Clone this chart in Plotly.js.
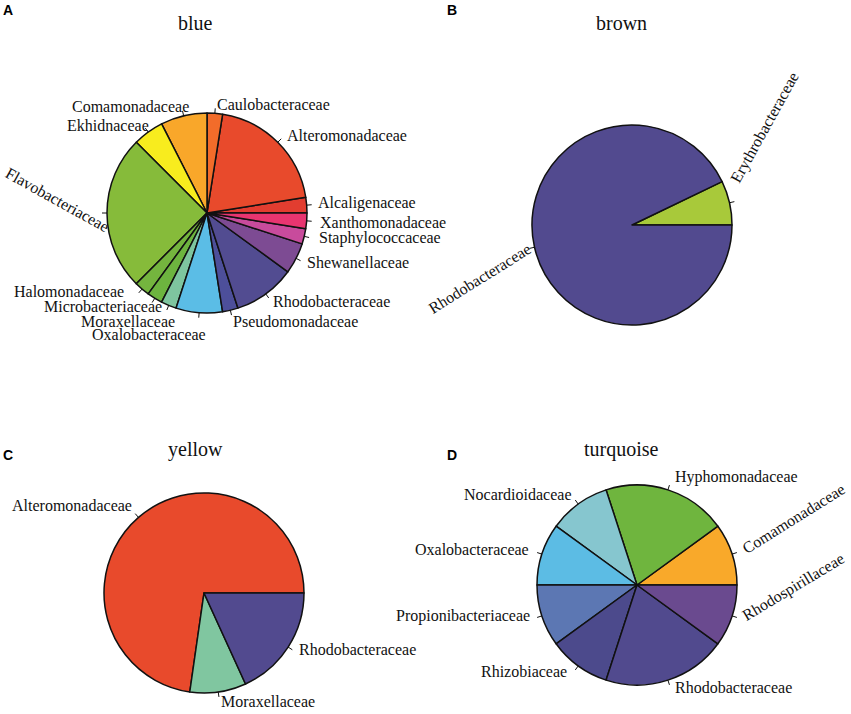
<!DOCTYPE html>
<html>
<head>
<meta charset="utf-8">
<script src="https://cdn.plot.ly/plotly-3.0.1.min.js"></script>
<style>html,body{margin:0;padding:0;background:#fff}#chart{width:851px;height:714px}</style>
</head>
<body>
<div id="chart"></div>
<script>
// ---- data (slice order: counter-clockwise from 3 o'clock) ----
const blueLabels = ["Alcaligenaceae","Alteromonadaceae","Caulobacteraceae","Comamonadaceae","Ekhidnaceae","Flavobacteriaceae","Halomonadaceae","Microbacteriaceae","Moraxellaceae","Oxalobacteraceae","Pseudomonadaceae","Rhodobacteraceae","Shewanellaceae","Staphylococcaceae","Xanthomonadaceae"];
const blueValues = [1, 8, 1, 3, 2, 10, 1, 1, 1, 3, 1, 4, 2, 1, 1];

const brownLabels = ["Erythrobacteraceae","Rhodobacteraceae"];
const brownValues = [1, 13];

const yellowLabels = ["Alteromonadaceae","Moraxellaceae","Rhodobacteraceae"];
const yellowValues = [8, 1, 2];

const turquoiseLabels = ["Comamonadaceae","Hyphomonadaceae","Nocardioidaceae","Oxalobacteraceae","Propionibacteriaceae","Rhizobiaceae","Rhodobacteraceae","Rhodospirillaceae"];
const turquoiseValues = [1, 2, 1, 1, 1, 1, 2, 1];

const panelTitles = ["blue","brown","yellow","turquoise"];
const panelLetters = ["A","B","C","D"];

// ---- styles ----
const blueColors = ["#e23d30","#e84a2c","#f26c2a","#f9a72a","#f8ec1e","#86bb3a","#74b53e","#6db43f","#7ec59f","#5bbde6","#4d4f9a","#524c91","#7d4b93","#c84b9c","#e83570"];
const brownColors = ["#a8c93a","#524a8f"];
const yellowColors = ["#e84a2c","#80c6a0","#524a8f"];
const turquoiseColors = ["#f9a92a","#6fb53e","#86c6cf","#5cbce4","#5c77b3","#4c4a8c","#514a8e","#6a4a8f"];

// label offsets from tick end [dx, dy(down), textangle or null]
const blueAdj = [[5,-2,null],[5,-3,null],[1,-4,null],[7.5,-4,null],[5,-3,null],[-45,-14,29],[-14,-1,null],[11,3.5,null],[9,11,null],[8,17,null],[0.5,6,null],[3,4,null],[5,2,null],[9,0.5,null],[7,1,null]];
const brownAdj = [[30,-74,-61],[-50,30,-32]];
const yellowAdj = [[-2,-8,null],[1,5,null],[5.5,0,null]];
const turquoiseAdj = [[57,-34,-32],[4.6,-8.4,null],[-3.3,-6,null],[-7,-3,null],[-6,-1,null],[-7,2,null],[4.6,3,null],[57,-30,-31]];

const W = 851, H = 714;
const panels = [
  {labels: blueLabels, values: blueValues, colors: blueColors, adj: blueAdj, cx: 207, cy: 213, r: 100, tx: 195, ty: 23, lx: 8, ly: 10},
  {labels: brownLabels, values: brownValues, colors: brownColors, adj: brownAdj, cx: 632, cy: 225, r: 100, tx: 621, ty: 23, lx: 452, ly: 10},
  {labels: yellowLabels, values: yellowValues, colors: yellowColors, adj: yellowAdj, cx: 204, cy: 593, r: 100, tx: 195, ty: 449, lx: 8, ly: 455},
  {labels: turquoiseLabels, values: turquoiseValues, colors: turquoiseColors, adj: turquoiseAdj, cx: 637, cy: 585, r: 100, tx: 621, ty: 449, lx: 452, ly: 455}
];

const serif = "Liberation Serif, Times New Roman, serif";
const traces = [], annotations = [], shapes = [];

panels.forEach((p, k) => {
  const total = p.values.reduce((a, b) => a + b, 0);
  // Plotly's counterclockwise pies end the first slice at the rotation mark,
  // so shift the mark by the first slice to start it at 3 o'clock.
  const firstDeg = 360 * p.values[0] / total;
  traces.push({
    type: "pie", labels: p.labels, values: p.values, sort: false,
    direction: "counterclockwise", rotation: 90 - firstDeg,
    textinfo: "none", hoverinfo: "label+value",
    marker: {colors: p.colors, line: {color: "#111", width: 1.5}},
    domain: {x: [(p.cx - p.r) / W, (p.cx + p.r) / W], y: [1 - (p.cy + p.r) / H, 1 - (p.cy - p.r) / H]}
  });
  let cum = 0;
  p.values.forEach((v, i) => {
    const th = 2 * Math.PI * (cum + v / 2) / total;
    cum += v;
    const c = Math.cos(th), s = Math.sin(th);
    const x0 = p.cx + p.r * c, y0 = p.cy - p.r * s;
    const x1 = p.cx + (p.r + 5) * c, y1 = p.cy - (p.r + 5) * s;
    shapes.push({type: "line", xref: "paper", yref: "paper", x0: x0 / W, y0: 1 - y0 / H, x1: x1 / W, y1: 1 - y1 / H, line: {color: "#111", width: 1}});
    const a = p.adj[i];
    const rotated = a[2] !== null;
    annotations.push({
      xref: "paper", yref: "paper", x: (x1 + a[0]) / W, y: 1 - (y1 + a[1]) / H,
      text: p.labels[i], showarrow: false,
      xanchor: rotated ? "center" : (c >= 0 ? "left" : "right"), yanchor: "middle",
      textangle: rotated ? a[2] : 0, borderpad: 0,
      font: {family: serif, size: 16, color: "#111"}
    });
  });
  annotations.push({xref: "paper", yref: "paper", x: p.tx / W, y: 1 - p.ty / H, text: panelTitles[k], showarrow: false,
    xanchor: "center", yanchor: "middle", font: {family: serif, size: 20, color: "#111"}});
  annotations.push({xref: "paper", yref: "paper", x: p.lx / W, y: 1 - p.ly / H, text: "<b>" + panelLetters[k] + "</b>", showarrow: false,
    xanchor: "center", yanchor: "middle", font: {family: "Liberation Sans, Arial, sans-serif", size: 14, color: "#000"}});
});

Plotly.newPlot("chart", traces, {
  width: W, height: H, margin: {l: 0, r: 0, t: 0, b: 0},
  paper_bgcolor: "#fff", plot_bgcolor: "#fff", showlegend: false,
  annotations: annotations, shapes: shapes
}, {displayModeBar: false, staticPlot: true});
</script>
</body>
</html>
